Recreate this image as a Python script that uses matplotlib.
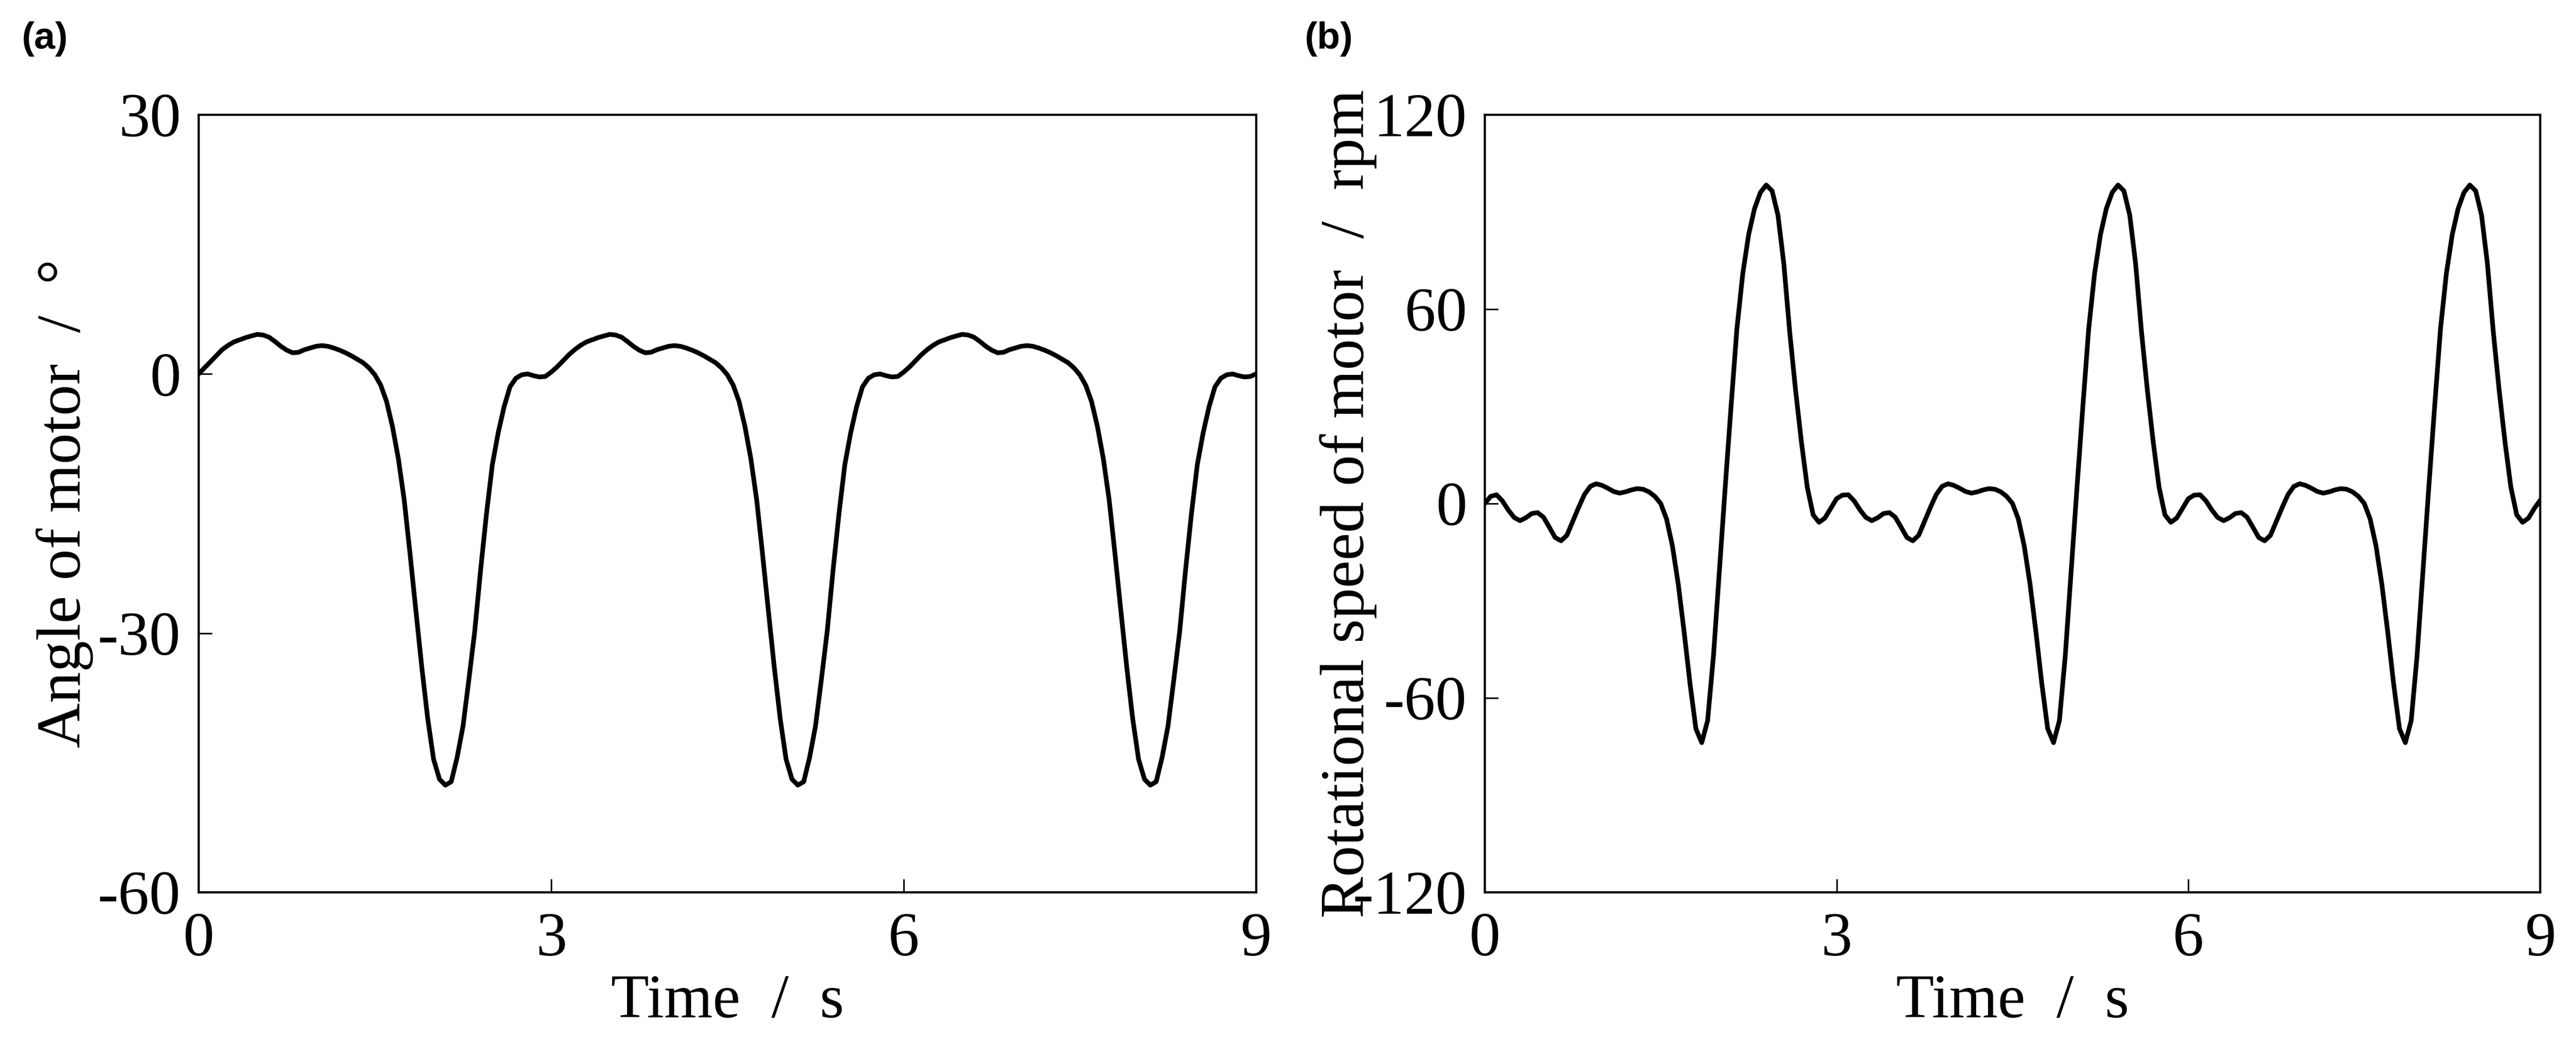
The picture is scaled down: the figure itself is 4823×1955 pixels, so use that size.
import numpy as np
import matplotlib

matplotlib.use("Agg")
import matplotlib.pyplot as plt

plt.rcParams["font.family"] = ["Liberation Serif", "DejaVu Serif"]
plt.rcParams["axes.unicode_minus"] = False

# --- data (0.05 s sampling) ---
time_s = np.round(np.arange(0, 181) * 0.05, 2)

angle_deg = [
    # 0.00 - 2.95 s
    0.0, 0.7, 1.4, 2.1, 2.8, 3.3, 3.7, 3.95, 4.2, 4.4,
    4.58, 4.5, 4.25, 3.75, 3.2, 2.75, 2.45, 2.5, 2.8, 3.0,
    3.2, 3.28, 3.2, 3.0, 2.75, 2.45, 2.1, 1.7, 1.3, 0.7,
    -0.1, -1.3, -3.2, -6.1, -9.8, -14.6, -20.9, -27.5, -34.0, -39.9,
    -44.6, -46.9, -47.6, -47.2, -44.4, -40.8, -35.4, -29.8, -22.7, -16.2,
    -10.5, -6.8, -3.8, -1.5, -0.5, -0.1, 0.0, -0.2, -0.35, -0.3,
    # 3.00 - 5.95 s
    0.2, 0.8, 1.5, 2.2, 2.8, 3.3, 3.7, 3.95, 4.2, 4.4,
    4.58, 4.5, 4.25, 3.75, 3.2, 2.75, 2.45, 2.5, 2.8, 3.0,
    3.2, 3.28, 3.2, 3.0, 2.75, 2.45, 2.1, 1.7, 1.3, 0.7,
    -0.1, -1.3, -3.2, -6.1, -9.8, -14.6, -20.9, -27.5, -34.0, -39.9,
    -44.6, -46.9, -47.6, -47.2, -44.4, -40.8, -35.4, -29.8, -22.7, -16.2,
    -10.5, -6.8, -3.8, -1.5, -0.5, -0.1, 0.0, -0.2, -0.35, -0.3,
    # 6.00 - 9.00 s
    0.2, 0.8, 1.5, 2.2, 2.8, 3.3, 3.7, 3.95, 4.2, 4.4,
    4.58, 4.5, 4.25, 3.75, 3.2, 2.75, 2.45, 2.5, 2.8, 3.0,
    3.2, 3.28, 3.2, 3.0, 2.75, 2.45, 2.1, 1.7, 1.3, 0.7,
    -0.1, -1.3, -3.2, -6.1, -9.8, -14.6, -20.9, -27.5, -34.0, -39.9,
    -44.6, -46.9, -47.6, -47.2, -44.4, -40.8, -35.4, -29.8, -22.7, -16.2,
    -10.5, -6.8, -3.8, -1.5, -0.5, -0.1, 0.0, -0.2, -0.35, -0.3,
    0.0,
]

speed_rpm = [
    # 0.00 - 2.95 s
    0.0, 2.2, 2.7, 0.8, -2.0, -4.3, -5.3, -4.4, -3.1, -2.8,
    -4.2, -7.3, -10.5, -11.5, -9.8, -5.5, -1.2, 2.8, 5.3, 6.1,
    5.6, 4.7, 3.7, 3.2, 3.6, 4.2, 4.6, 4.4, 3.6, 2.2,
    0.0, -4.8, -13.1, -25.0, -39.7, -55.6, -69.5, -73.8, -67.0, -47.0,
    -21.0, 5.0, 30.0, 54.0, 71.0, 83.0, 91.0, 96.0, 98.3, 96.5,
    89.0, 74.0, 53.0, 35.0, 19.0, 5.0, -3.5, -5.8, -4.5, -1.5,
    # 3.00 - 5.95 s
    1.5, 2.6, 2.7, 0.8, -2.0, -4.3, -5.3, -4.4, -3.1, -2.8,
    -4.2, -7.3, -10.5, -11.5, -9.8, -5.5, -1.2, 2.8, 5.3, 6.1,
    5.6, 4.7, 3.7, 3.2, 3.6, 4.2, 4.6, 4.4, 3.6, 2.2,
    0.0, -4.8, -13.1, -25.0, -39.7, -55.6, -69.5, -73.8, -67.0, -47.0,
    -21.0, 5.0, 30.0, 54.0, 71.0, 83.0, 91.0, 96.0, 98.3, 96.5,
    89.0, 74.0, 53.0, 35.0, 19.0, 5.0, -3.5, -5.8, -4.5, -1.5,
    # 6.00 - 9.00 s
    1.5, 2.6, 2.7, 0.8, -2.0, -4.3, -5.3, -4.4, -3.1, -2.8,
    -4.2, -7.3, -10.5, -11.5, -9.8, -5.5, -1.2, 2.8, 5.3, 6.1,
    5.6, 4.7, 3.7, 3.2, 3.6, 4.2, 4.6, 4.4, 3.6, 2.2,
    0.0, -4.8, -13.1, -25.0, -39.7, -55.6, -69.5, -73.8, -67.0, -47.0,
    -21.0, 5.0, 30.0, 54.0, 71.0, 83.0, 91.0, 96.0, 98.3, 96.5,
    89.0, 74.0, 53.0, 35.0, 19.0, 5.0, -3.5, -5.8, -4.5, -1.5,
    1.0,
]

x_ticks = [0, 3, 6, 9]
angle_ticks = [30, 0, -30, -60]
speed_ticks = [120, 60, 0, -60, -120]

FS = 28

fig = plt.figure(figsize=(4823 / 300, 1955 / 300), dpi=300)
ax1 = fig.add_axes([0.0771, 0.1453, 0.4105, 0.7448])
ax2 = fig.add_axes([0.5764, 0.1453, 0.4097, 0.7448])


def style_axis(ax, yticks, ylabel):
    ax.set_xlim(0, 9)
    ax.set_ylim(min(yticks), max(yticks))
    ax.set_xticks(x_ticks)
    ax.set_yticks(yticks)
    ax.set_yticklabels([str(v) for v in yticks])
    ax.tick_params(direction="in", length=6, width=0.7, labelsize=FS,
                   top=False, right=False)
    ax.tick_params(axis="x", pad=9)
    ax.tick_params(axis="y", pad=8)
    for sp in ax.spines.values():
        sp.set_linewidth(1.0)
    ax.set_xlabel("Time  /  s", fontsize=FS)
    ax.set_ylabel(ylabel, fontsize=FS)
    ax.xaxis.set_label_coords(0.5, -0.105)


ax1.plot(time_s, angle_deg, color="black", linewidth=2.1)
style_axis(ax1, angle_ticks, "Angle of motor  /  \u00b0")
ax1.yaxis.set_label_coords(-0.0995, 0.5)

ax2.plot(time_s, speed_rpm, color="black", linewidth=2.1)
style_axis(ax2, speed_ticks, "Rotational speed of motor  /  rpm")
ax2.yaxis.set_label_coords(-0.102, 0.5)

for xpos, lab in [(40 / 4823, "(a)"), (2443 / 4823, "(b)")]:
    fig.text(xpos, 1 - 40 / 1955, lab, fontsize=17, fontweight="bold",
             family="Liberation Sans", va="top", ha="left")

fig.savefig("out.png", dpi=300)
plt.close(fig)
